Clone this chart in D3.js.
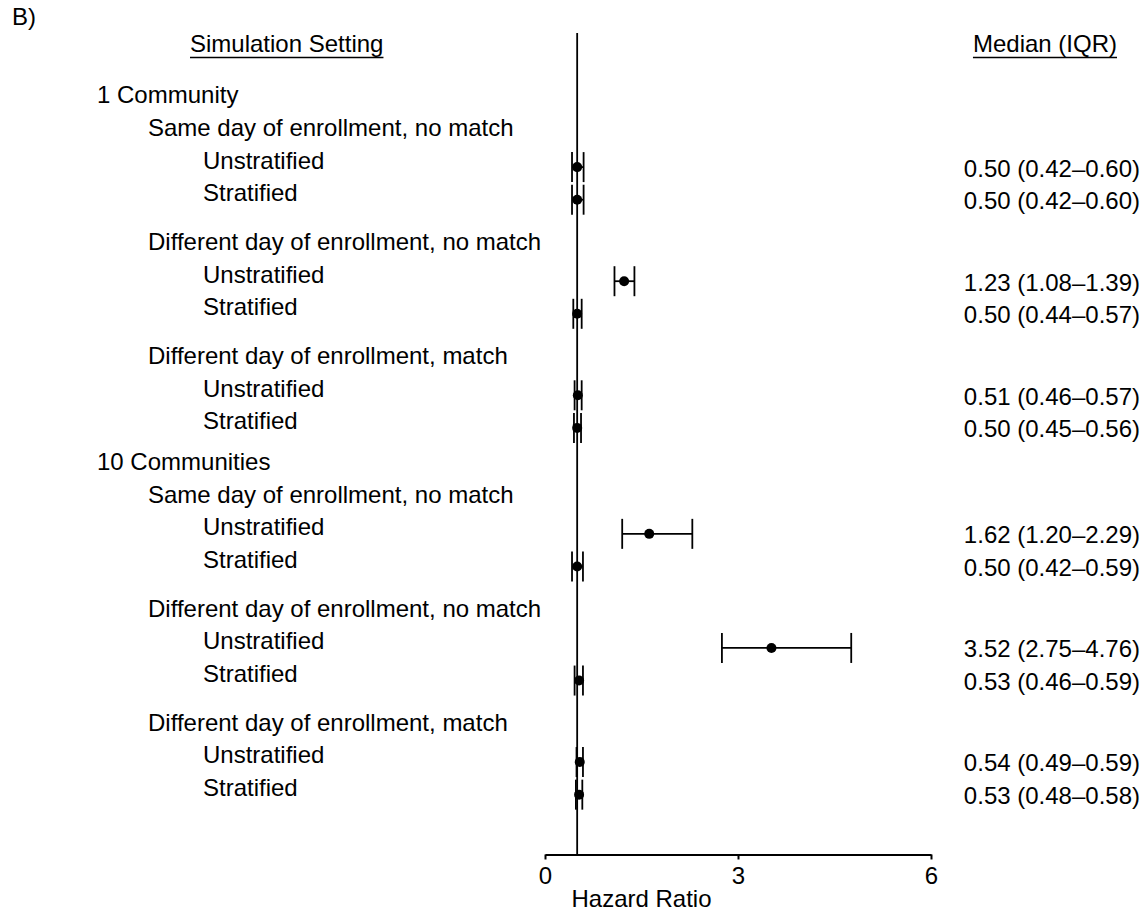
<!DOCTYPE html>
<html>
<head>
<meta charset="utf-8">
<script src="https://cdn.jsdelivr.net/npm/d3@7"></script>
<style>
  body { margin: 0; background: #fff; }
  text { font-family: "Liberation Sans", Arial, Helvetica, sans-serif; fill: #000; }
</style>
</head>
<body>
<div id="forest"></div>
<script>
// DATA - - - - - - - - - - - - - - - - - - - - - - - - - - - - - - - - - - - - - - - - - - - - - -
var communities = ["1 Community", "10 Communities"]
var settings = ["Same day of enrollment, no match",
                "Different day of enrollment, no match",
                "Different day of enrollment, match"]
var strata = ["Unstratified", "Stratified"]

// one value per (community, setting, stratum), in that order
var medians = [0.50, 0.50, 1.23, 0.50, 0.51, 0.50,
               1.62, 0.50, 3.52, 0.53, 0.54, 0.53]
var lowers  = [0.42, 0.42, 1.08, 0.44, 0.46, 0.45,
               1.20, 0.42, 2.75, 0.46, 0.49, 0.48]
var uppers  = [0.60, 0.60, 1.39, 0.57, 0.57, 0.56,
               2.29, 0.59, 4.76, 0.59, 0.59, 0.58]

var xTicks = [0, 3, 6]
var nullValue = 0.5

// SVG Canvas - - - - - - - - - - - - - - - - - - - - - - - - - - - - - - - - - - - - - - - - - - -
var svgWidth = 1147
  , svgHeight = 915
  , fontSize = 24
  , dot_rad = 5
  , cap_half = 15
  , line_w = 1.8

var svg = d3.select("#forest").append("svg")
    .attr("width", svgWidth)
    .attr("height", svgHeight)

// x: hazard ratio, y: text line slots
var x = d3.scaleLinear().domain([0, 6]).range([545, 931])
var y = d3.scaleLinear().domain([0, 1]).range([94.9, 127.5])

// Build the rows (headings and estimates) with their slot number
var headings = []
var rows = []
var cursor = 0
communities.forEach(function(c, k) {
    if (k > 0) cursor += 0.25
    headings.push({text: c, slot: cursor, indent: 97})
    cursor += 1
    settings.forEach(function(s, j) {
        if (j > 0) cursor += 0.5
        headings.push({text: s, slot: cursor, indent: 148})
        cursor += 1
        strata.forEach(function(st, m) {
            var i = k * settings.length * strata.length + j * strata.length + m
            rows.push({label: st, slot: cursor, med: medians[i], lo: lowers[i], hi: uppers[i]})
            cursor += 1
        })
    })
})

// point centre sits a bit lower than the left label
var pointY = function(d) { return y(d.slot) + 7 }
var fmt = d3.format(".2f")

// - - - - - - - - - - - - - - - - - - - - - - - - - - - - - - - - - - - - - - - - - - - - - - - -
// Titles
svg.append("text")
    .attr("x", 12).attr("y", 25)
    .style("font-size", fontSize + "px")
    .text("B)")

var colHeads = [
    {text: "Simulation Setting", x: 190, anchor: "start"},
    {text: "Median (IQR)", x: 1117, anchor: "end"}
]
colHeads.forEach(function(h) {
    var t = svg.append("text")
        .attr("x", h.x).attr("y", 51.5)
        .attr("text-anchor", h.anchor)
        .style("font-size", fontSize + "px")
        .text(h.text)
    var w = t.node().getComputedTextLength()
    var x0 = h.anchor == "start" ? h.x : h.x - w
    svg.append("line")
        .attr("x1", x0).attr("x2", x0 + w)
        .attr("y1", 57.5).attr("y2", 57.5)
        .attr("stroke", "#000").attr("stroke-width", 1.6)
})

// Left column text
svg.append("g").selectAll("text")
    .data(headings).enter()
    .append("text")
        .attr("x", d => d.indent)
        .attr("y", d => y(d.slot))
        .attr("dy", "0.35em")
        .style("font-size", fontSize + "px")
        .text(d => d.text)

svg.append("g").selectAll("text")
    .data(rows).enter()
    .append("text")
        .attr("x", 203)
        .attr("y", d => y(d.slot))
        .attr("dy", "0.35em")
        .style("font-size", fontSize + "px")
        .text(d => d.label)

// Right column text
svg.append("g").selectAll("text")
    .data(rows).enter()
    .append("text")
        .attr("x", 1140)
        .attr("y", d => pointY(d) + 1)
        .attr("dy", "0.35em")
        .attr("text-anchor", "end")
        .style("font-size", fontSize + "px")
        .text(d => fmt(d.med) + " (" + fmt(d.lo) + "\u2013" + fmt(d.hi) + ")")

// - - - - - - - - - - - - - - - - - - - - - - - - - - - - - - - - - - - - - - - - - - - - - - - -
// Axis
var axisY = y(23.3)
var xAxis = d3.axisBottom(x)
    .tickValues(xTicks)
    .tickFormat(d3.format("d"))
    .tickSize(5)
    .tickSizeOuter(0)
    .tickPadding(7)

var gx = svg.append("g")
    .attr("transform", "translate(0," + axisY + ")")
    .call(xAxis)
gx.select(".domain").attr("stroke-width", 2)
gx.selectAll(".tick line").attr("stroke-width", 2)
gx.selectAll(".tick text")
    .style("font-size", fontSize + "px")
    .style("font-family", "'Liberation Sans', Arial, Helvetica, sans-serif")

svg.append("text")
    .attr("x", x(1.5)).attr("y", 907)
    .attr("text-anchor", "middle")
    .style("font-size", fontSize + "px")
    .text("Hazard Ratio")

// Null reference line
svg.append("line")
    .attr("x1", x(nullValue)).attr("x2", x(nullValue))
    .attr("y1", 33).attr("y2", axisY)
    .attr("stroke", "#000").attr("stroke-width", line_w)

// Estimates with IQR whiskers
var est = svg.append("g").selectAll("g")
    .data(rows).enter()
    .append("g")

est.append("line")
    .attr("x1", d => x(d.lo)).attr("x2", d => x(d.hi))
    .attr("y1", pointY).attr("y2", pointY)
    .attr("stroke", "#000").attr("stroke-width", line_w)

est.append("line")
    .attr("x1", d => x(d.lo)).attr("x2", d => x(d.lo))
    .attr("y1", d => pointY(d) - cap_half).attr("y2", d => pointY(d) + cap_half)
    .attr("stroke", "#000").attr("stroke-width", line_w)

est.append("line")
    .attr("x1", d => x(d.hi)).attr("x2", d => x(d.hi))
    .attr("y1", d => pointY(d) - cap_half).attr("y2", d => pointY(d) + cap_half)
    .attr("stroke", "#000").attr("stroke-width", line_w)

est.append("circle")
    .attr("cx", d => x(d.med))
    .attr("cy", pointY)
    .attr("r", dot_rad)
    .attr("fill", "#000")
</script>
</body>
</html>
